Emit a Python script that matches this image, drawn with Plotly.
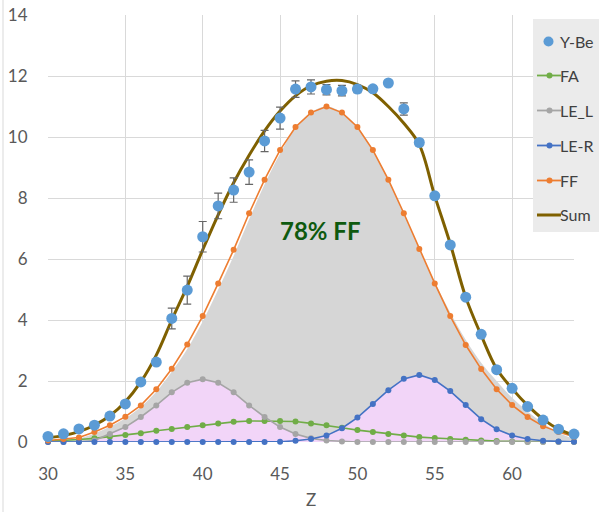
import plotly.graph_objects as go

Z = list(range(30, 65))

Y_BE = [0.18, 0.27, 0.43, 0.55, 0.85, 1.25, 1.97, 2.62, 4.05, 4.98, 6.73, 7.74, 8.26, 8.85, 9.87,
        10.62, 11.57, 11.64, 11.55, 11.52, 11.57, 11.58, 11.77, 10.92, 9.82, 8.07, 6.46, 4.75, 3.53,
        2.37, 1.76, 1.16, 0.72, 0.42, 0.26]
Y_BE_ERR = [0, 0, 0, 0, 0, 0, 0, 0, 0.34, 0.46, 0.5, 0.42, 0.4, 0.4, 0.35,
            0.36, 0.27, 0.23, 0.17, 0.17, 0.12, 0.1, 0.05, 0.2, 0.1, 0, 0, 0, 0,
            0, 0, 0, 0, 0, 0]
FA = [0.03, 0.05, 0.08, 0.12, 0.17, 0.23, 0.29, 0.37, 0.43, 0.49, 0.55, 0.61, 0.66, 0.69, 0.69,
      0.69, 0.67, 0.61, 0.55, 0.47, 0.39, 0.33, 0.26, 0.21, 0.16, 0.13, 0.1, 0.07, 0.05,
      0.03, 0.02, 0.01, 0.01, 0.01, 0.01]
LE_L = [0, 0, 0.01, 0.05, 0.26, 0.49, 0.82, 1.2, 1.63, 1.94, 2.06, 1.94, 1.63, 1.2, 0.82,
        0.49, 0.26, 0.12, 0.05, 0.02, 0, 0, 0, 0, 0, 0, 0, 0, 0,
        0, 0, 0, 0, 0, 0]
LE_R = [0, 0, 0, 0, 0, 0, 0, 0, 0, 0, 0, 0, 0, 0, 0,
        0.01, 0.04, 0.1, 0.21, 0.45, 0.8, 1.25, 1.7, 2.07, 2.2, 2.03, 1.67, 1.21, 0.75,
        0.42, 0.21, 0.1, 0.04, 0.02, 0.01]
FF = [0.05, 0.1, 0.15, 0.33, 0.55, 0.83, 1.2, 1.73, 2.4, 3.2, 4.13, 5.2, 6.3, 7.5, 8.6,
      9.57, 10.33, 10.8, 11.0, 10.8, 10.33, 9.57, 8.6, 7.5, 6.33, 5.2, 4.13, 3.18, 2.39,
      1.73, 1.21, 0.82, 0.52, 0.33, 0.17]
SUM = [0.14, 0.21, 0.34, 0.55, 0.86, 1.32, 1.97, 2.85, 4.0, 5.1, 6.3, 7.45, 8.5, 9.4, 10.2,
       10.85, 11.35, 11.68, 11.83, 11.85, 11.72, 11.45, 11.0, 10.45, 9.75, 8.07, 6.5, 4.75, 3.5,
       2.4, 1.75, 1.2, 0.75, 0.42, 0.22]
FF_AREA = [0.03, 0.06, 0.12, 0.28, 0.5, 0.78, 1.15, 1.65, 2.3, 3.05, 3.95, 5.0, 6.1, 7.3, 8.45,
           9.45, 10.3, 10.8, 11.0, 10.8, 10.33, 9.57, 8.6, 7.5, 6.35, 5.25, 4.25, 3.35, 2.6,
           2.0, 1.45, 1.0, 0.62, 0.3, 0.1]

NAMES = ["Y-Be", "FA", "LE_L", "LE-R", "FF", "Sum"]
COLORS = ["#5b9bd5", "#70ad47", "#a5a5a5", "#4472c4", "#ed7d31", "#7f6000"]
ANNOT = "78% FF"
X_TITLE = "Z"

FONT = "Lato"
TXT = "#595959"

W, H = 599, 512
ML, MR, MT, MB = 48, 25, 15, 70
PW, PH = W - ML - MR, H - MT - MB


def px(xp):
    return (xp - ML) / PW


def py(yp):
    return (H - MB - yp) / PH


fig = go.Figure()

# filled areas
fig.add_trace(go.Scatter(x=Z, y=FF_AREA, mode="lines", line=dict(width=0, shape="spline"),
                         fill="tozeroy", fillcolor="#d6d6d6", showlegend=False, hoverinfo="skip"))
fig.add_trace(go.Scatter(x=Z, y=LE_L, mode="lines", line=dict(width=0, shape="spline"),
                         fill="tozeroy", fillcolor="#f2d5f8", showlegend=False, hoverinfo="skip"))
fig.add_trace(go.Scatter(x=Z, y=LE_R, mode="lines", line=dict(width=0, shape="spline"),
                         fill="tozeroy", fillcolor="#f2d5f8", showlegend=False, hoverinfo="skip"))

for vals, col, nm in zip([FA, LE_L, LE_R, FF], COLORS[1:5], NAMES[1:5]):
    fig.add_trace(go.Scatter(x=Z, y=vals, mode="lines+markers", name=nm,
                             line=dict(color=col, width=1.6),
                             marker=dict(color=col, size=6),
                             cliponaxis=False, showlegend=False))

fig.add_trace(go.Scatter(x=Z, y=SUM, mode="lines", name=NAMES[5],
                         line=dict(color=COLORS[5], width=3, shape="spline"),
                         cliponaxis=False, showlegend=False))

fig.add_trace(go.Scatter(x=Z, y=Y_BE, mode="markers", name=NAMES[0],
                         marker=dict(color=COLORS[0], size=11),
                         error_y=dict(type="data", array=Y_BE_ERR, visible=True,
                                      color="#666666", thickness=1.2, width=4),
                         cliponaxis=False, showlegend=False))

fig.add_annotation(x=47.6, y=6.93, text="<b>" + ANNOT + "</b>", showarrow=False,
                   font=dict(family=FONT, size=24, color="#0f5a0f"))

# x-axis title
fig.add_annotation(xref="paper", yref="paper", x=px(311), y=py(500), text=X_TITLE,
                   showarrow=False, xanchor="center", yanchor="middle", borderpad=0,
                   font=dict(family=FONT, size=17, color=TXT))

# chart border line at the far left
fig.add_shape(type="line", xref="paper", yref="paper", x0=px(3), x1=px(3), y0=py(512), y1=py(0),
              line=dict(color="#d9d9d9", width=1))

# legend box (drawn by hand so it runs off the right edge like the reference)
fig.add_shape(type="rect", xref="paper", yref="paper", x0=px(533), x1=px(640), y0=py(232), y1=py(19),
              fillcolor="#ebebeb", line=dict(width=0), layer="above")
row_y = [41.5, 75.5, 110.5, 145.5, 180.5, 215]
for i, (nm, col, yy) in enumerate(zip(NAMES, COLORS, row_y)):
    if i == 0:
        fig.add_shape(type="circle", xref="paper", yref="paper", xsizemode="pixel", ysizemode="pixel",
                      xanchor=px(548.5), yanchor=py(yy), x0=-5, x1=5, y0=-5, y1=5,
                      fillcolor=col, line=dict(width=0), layer="above")
    else:
        fig.add_shape(type="line", xref="paper", yref="paper", x0=px(537), x1=px(561),
                      y0=py(yy), y1=py(yy),
                      line=dict(color=col, width=3 if i == 5 else 1.8), layer="above")
        if i < 5:
            fig.add_shape(type="circle", xref="paper", yref="paper", xsizemode="pixel",
                          ysizemode="pixel", xanchor=px(549.5), yanchor=py(yy),
                          x0=-3, x1=3, y0=-3, y1=3, fillcolor=col, line=dict(width=0), layer="above")
    fig.add_annotation(xref="paper", yref="paper", x=px(560), y=py(yy), xanchor="left",
                       yanchor="middle", text=nm, showarrow=False, xshift=-2,
                       font=dict(family=FONT, size=16, color="#404040"))

fig.update_layout(
    width=W, height=H,
    margin=dict(l=ML, r=MR, t=MT, b=MB, autoexpand=False),
    paper_bgcolor="white", plot_bgcolor="white",
    font=dict(family=FONT, size=17, color=TXT),
    showlegend=False,
    xaxis=dict(range=[30, 64], tick0=30, dtick=5, showgrid=True, gridcolor="#d9d9d9",
               gridwidth=1, zeroline=False, showline=False, ticks="outside", ticklen=17,
               tickcolor="rgba(0,0,0,0)", tickfont=dict(size=17, color=TXT), automargin=False),
    yaxis=dict(range=[0, 14], tick0=0, dtick=2, showgrid=True, gridcolor="#d9d9d9",
               gridwidth=1, zeroline=False, showline=False, ticks="outside", ticklen=16,
               tickcolor="rgba(0,0,0,0)", tickfont=dict(size=17, color=TXT), automargin=False),
)

fig.write_html("out.html")
